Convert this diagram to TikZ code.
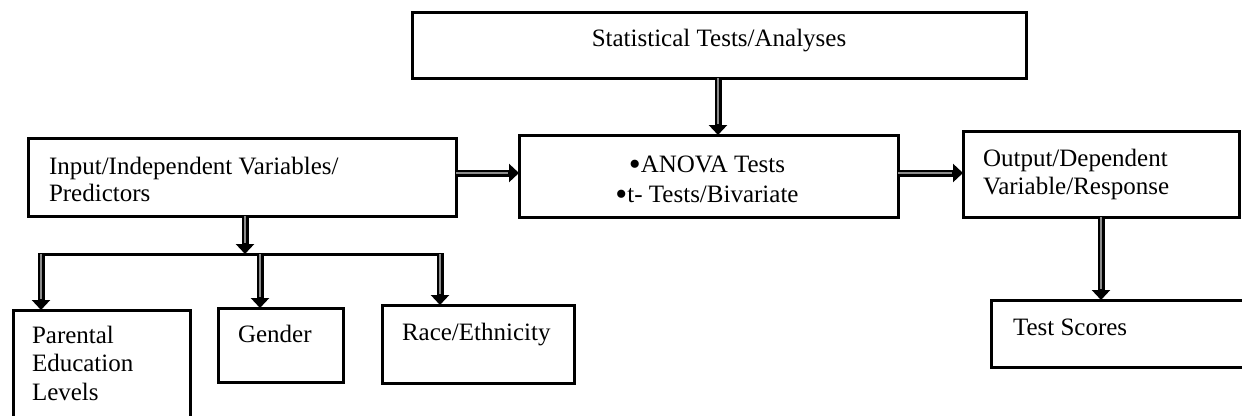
\documentclass[tikz,border=0pt]{standalone}
\usepackage{fontspec}
\setmainfont{Liberation Serif}
\usetikzlibrary{arrows.meta}
\newcommand{\bigbul}{{\fontsize{34}{30}\selectfont\raisebox{-3.5pt}{•}}}
\begin{document}
\begin{tikzpicture}[x=1pt,y=-1pt,
  box/.style={draw, line width=3pt, rectangle, inner sep=0pt, outer sep=0pt, anchor=north west},
  txt/.style={inner sep=0pt, outer sep=0pt, font=\fontsize{25}{28}\selectfont},
  dbl/.style={line width=7pt, -{Triangle[length=10pt,width=18pt]},
    postaction={draw=black!45, line width=2.2pt, -, shorten >=11pt}},
  bar/.style={line width=3pt}]
\useasboundingbox (0,0) rectangle (1242,415);
\clip (0,0) rectangle (1242,415);
% boxes
\node[box, minimum width=614pt, minimum height=66pt] (stat) at (412,12) {};
\node[box, minimum width=379pt, minimum height=82pt] (anova) at (519,135) {};
\node[box, minimum width=428pt, minimum height=78pt] (input) at (28,138) {};
\node[box, minimum width=276pt, minimum height=86pt] (output) at (963,131) {};
\node[box, minimum width=279pt, minimum height=67pt] (test) at (991,300) {};
\node[box, minimum width=177pt, minimum height=130pt] (parental) at (13,310) {};
\node[box, minimum width=125pt, minimum height=74pt] (gender) at (218,308) {};
\node[box, minimum width=192pt, minimum height=78pt] (race) at (382,305) {};
% texts (base anchor = baseline of the last line)
\node[txt, anchor=base] (tstat) at (719,46) {Statistical Tests/Analyses};
\node[txt, anchor=base, align=center, font=\fontsize{25}{30}\selectfont] (tanova) at (707,202) {\bigbul ANOVA Tests\\\bigbul t- Tests/Bivariate};
\node[txt, anchor=base west, align=left, font=\fontsize{25}{27}\selectfont] (tinput) at (49,201) {Input/Independent Variables/\\Predictors};
\node[txt, anchor=base west, align=left] (toutput) at (983,194) {Output/Dependent\\Variable/Response};
\node[txt, anchor=base west] (ttest) at (1013,335) {Test Scores};
\node[txt, anchor=base west, align=left, font=\fontsize{25}{28.5}\selectfont] (tparental) at (32,400) {Parental\\Education\\Levels};
\node[txt, anchor=base west] (tgender) at (238,342) {Gender};
\node[txt, anchor=base west] (trace) at (402,340) {Race/Ethnicity};
% connector coordinates
\coordinate (xs) at (718,0);
\coordinate (ya) at (0,173);
\coordinate (xo) at (1101,0);
\coordinate (j) at (245,254);
\coordinate (bl) at (38,254);
\coordinate (br) at (444,254);
\coordinate (pa) at (41,254);
\coordinate (ga) at (260,254);
\coordinate (ra) at (440,254);
% connectors
\draw[dbl] (stat.south -| xs) -- (anova.north -| xs);
\draw[dbl] (input.east |- ya) -- (anova.west |- ya);
\draw[dbl] (anova.east |- ya) -- (output.west |- ya);
\draw[dbl] (output.south -| xo) -- (test.north -| xo);
\draw[bar] (bl) -- (br);
\draw[dbl] (input.south -| j) -- (j);
\draw[dbl] (pa) -- (pa |- parental.north);
\draw[dbl] (ga) -- (ga |- gender.north);
\draw[dbl] (ra) -- (ra |- race.north);
\end{tikzpicture}
\end{document}
